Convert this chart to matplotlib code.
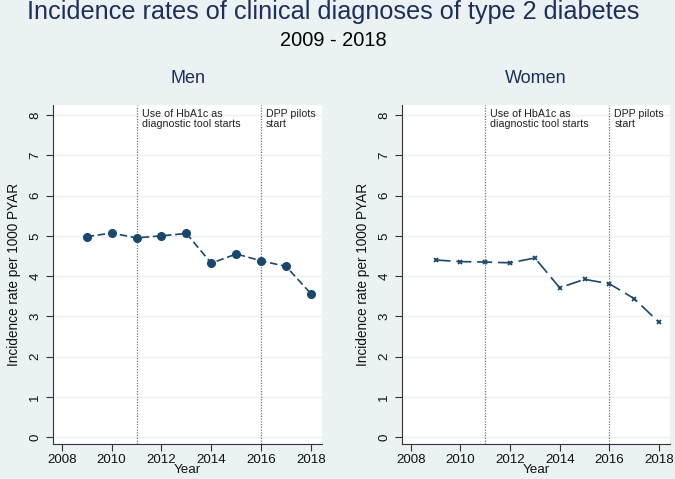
import matplotlib
matplotlib.use("Agg")
import matplotlib.pyplot as plt

plt.rcParams['font.family'] = ['Liberation Sans', 'DejaVu Sans']

years = [2009, 2010, 2011, 2012, 2013, 2014, 2015, 2016, 2017, 2018]
men_rates = [4.98, 5.07, 4.95, 5.00, 5.06, 4.32, 4.55, 4.38, 4.24, 3.56]
women_rates = [4.40, 4.36, 4.35, 4.33, 4.45, 3.71, 3.92, 3.81, 3.44, 2.85]
event_years = [2011, 2016]
event_labels = ["Use of HbA1c as\ndiagnostic tool starts", "DPP pilots\nstart"]
x_ticks = [2008, 2010, 2012, 2014, 2016, 2018]
y_ticks = [0, 1, 2, 3, 4, 5, 6, 7, 8]

BG = '#EAF2F3'
NAVY = '#1A476F'
TITLE = '#1F2E5A'
W, H = 675, 479
fig = plt.figure(figsize=(W / 100, H / 100), dpi=100)
fig.patch.set_facecolor(BG)

def px_axes(l, r, t, b):
    return fig.add_axes([l / W, 1 - b / H, (r - l) / W, (b - t) / H])

panels = [
    ("Men", men_rates, px_axes(53, 322, 105, 444), dict(marker='o', markersize=5.5, dashes=(4.5, 2.2))),
    ("Women", women_rates, px_axes(402, 670, 105, 444), dict(marker='x', markersize=3.5, markeredgewidth=1.3, dashes=(9, 3.5))),
]

for title, vals, ax, style in panels:
    ax.set_facecolor('white')
    ax.set_xlim(2007.65, 2018.44)
    ax.set_ylim(-0.17, 8.25)
    for y in y_ticks:
        ax.axhline(y, color=BG, lw=1.0, zorder=1)
    for ex, lab in zip(event_years, event_labels):
        ax.axvline(ex, color='#777777', lw=0.9, linestyle=(0, (1, 1.2)), zorder=2)
        ax.text(ex + 0.2, 8.15, lab, fontsize=7.7, color='#222222', va='top', ha='left',
                linespacing=0.95, zorder=3)
    ax.plot(years, vals, color=NAVY, lw=1.2, zorder=4, **style)
    ax.set_xticks(x_ticks)
    ax.set_yticks(y_ticks)
    ax.tick_params(axis='both', direction='out', length=5, width=0.8, color='#333333',
                   labelsize=9.6, labelcolor='#111111')
    ax.tick_params(axis='x', pad=2.5)
    for lbl in ax.get_yticklabels():
        lbl.set_rotation(90)
        lbl.set_va('center')
    ax.spines['top'].set_visible(False)
    ax.spines['right'].set_visible(False)
    ax.spines['left'].set_color('#333333')
    ax.spines['bottom'].set_color('#333333')
    ax.set_xlabel("Year", fontsize=9.6, color='#111111', labelpad=-2)
    ax.set_ylabel("Incidence rate per 1000 PYAR", fontsize=9.8, color='#111111', labelpad=6)
    ax.set_title(title, fontsize=13, color=TITLE, pad=16)

fig.text(0.494, 1 - 18.5 / H, "Incidence rates of clinical diagnoses of type 2 diabetes",
         fontsize=18.2, color=TITLE, ha='center', va='baseline')
fig.text(0.494, 1 - 41 / H, "2009 - 2018", fontsize=14.4, color='black', ha='center', va='center')

fig.savefig("out.png", dpi=100, facecolor=BG)
